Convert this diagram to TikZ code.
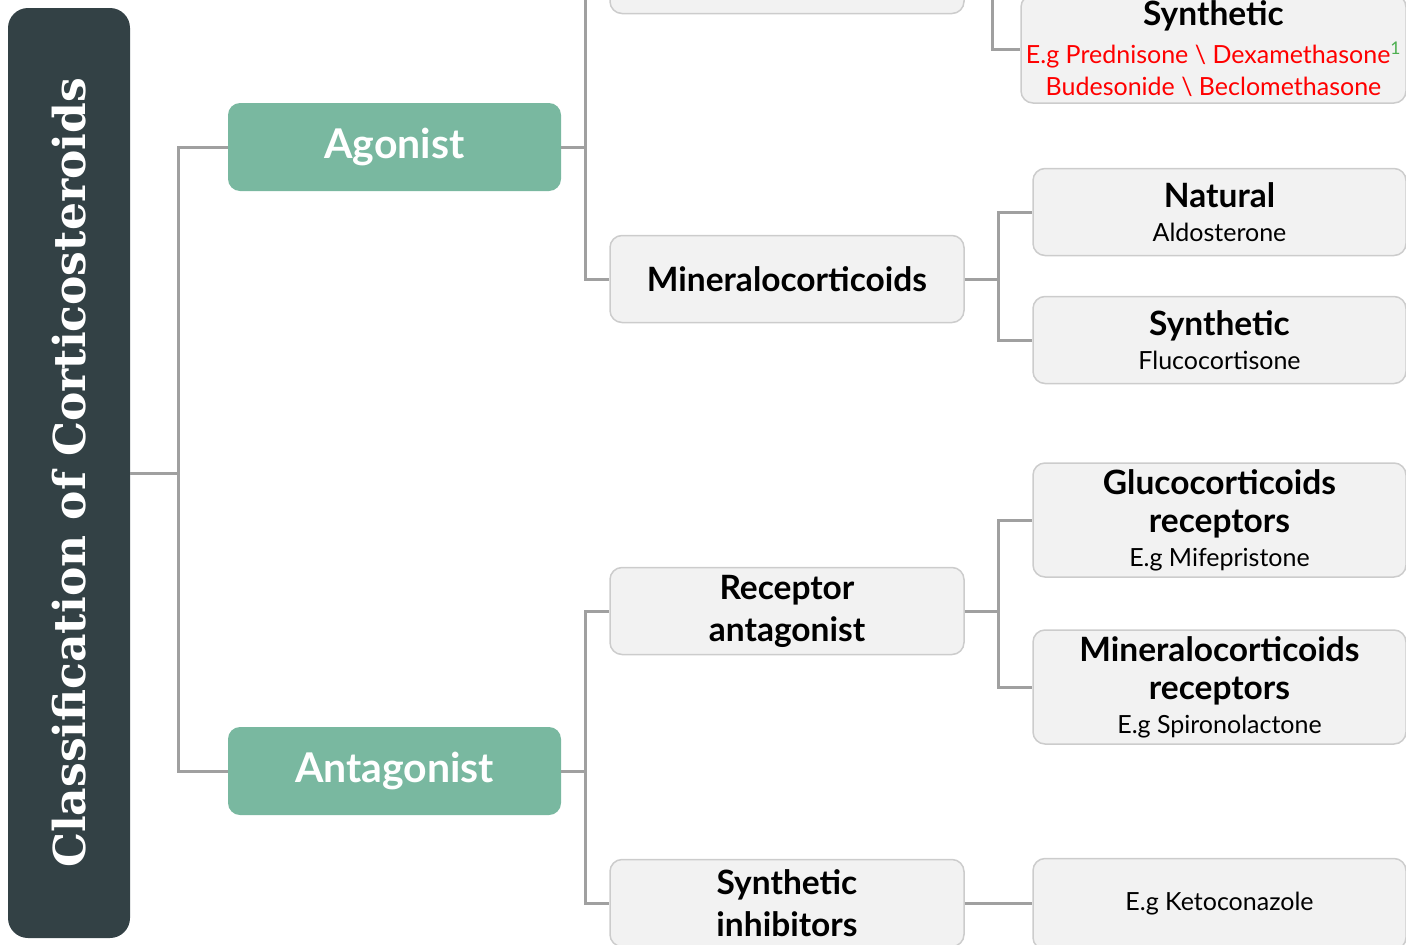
\documentclass[tikz,border=0pt]{standalone}
\usepackage{fontspec}
\setmainfont{Lato}
\newfontfamily\titlefont{DejaVu Serif}
\usetikzlibrary{positioning}
\definecolor{slate}{HTML}{334145}
\definecolor{sage}{HTML}{79B8A0}
\definecolor{boxfill}{HTML}{F2F2F2}
\definecolor{boxline}{HTML}{CCCCCC}
\definecolor{linkgray}{HTML}{A0A0A0}
\definecolor{egred}{HTML}{FF0000}
\definecolor{refgreen}{HTML}{4CAF50}
\newcommand{\hd}{\fontsize{33.5}{38}\selectfont\bfseries}
\newcommand{\eg}{\fontsize{25}{30}\selectfont\mdseries}

\begin{document}
\begin{tikzpicture}
        [x=1pt, y=-1pt,
          root/.style={fill=slate, rounded corners=20pt, minimum width=122pt, minimum height=930pt},
          major/.style={fill=sage, rounded corners=12pt, minimum width=333pt, minimum height=88pt,
            text=white, font=\fontsize{41}{48}\selectfont\bfseries},
          element/.style={draw=boxline, line width=1.5pt, fill=boxfill, rounded corners=12pt,
            minimum width=354pt, minimum height=87pt, align=center, font=\hd},
          leaf/.style={element, minimum width=373pt},
          link/.style={draw=linkgray, line width=3pt}]
        \useasboundingbox (0,0) rectangle (1406,945);
        \clip (0,0) rectangle (1406,945);
        \node[root] (root) at (69,473) {};
        \node[rotate=90, text=white, font=\titlefont\fontsize{44}{52}\selectfont\bfseries] (title) at (root.center)
          {Classification of Corticosteroids};
        \node[major] (agon) at (394.5,147) {Agonist};
        \node[major] (antag) at (394.5,771) {Antagonist};
        % level 2
        \node[element] (gluco) at (787,-30) {};
        \node[element] (mineral) at (787,279) {Mineralocorticoids};
        \node[element] (recant) at (787,611) {Receptor\\[4pt]antagonist};
        \node[element] (synin) at (787,903) {Synthetic\\[4pt]inhibitors};
        % level 3
        \node[leaf, minimum width=385pt, minimum height=108pt] (glsyn) at (1213.5,49)
          {Synthetic\\{\eg\color{egred}E.g Prednisone \textbackslash{} Dexamethasone\textsuperscript{\color{refgreen}1}}\\[-6pt]
           {\eg\color{egred}Budesonide \textbackslash{} Beclomethasone}};
        \node[leaf] (natural) at (1219.5,212) {Natural\\[-4pt]{\eg Aldosterone}};
        \node[leaf] (synth) at (1219.5,340) {Synthetic\\[-4pt]{\eg Flucocortisone}};
        \node[leaf, minimum height=114pt] (glurec) at (1219.5,520) {Glucocorticoids\\receptors\\[-4pt]{\eg E.g Mifepristone}};
        \node[leaf, minimum height=114pt] (minrec) at (1219.5,687) {Mineralocorticoids\\receptors\\[-4pt]{\eg E.g Spironolactone}};
        \node[leaf, font=\eg, minimum height=91pt] (keto) at (1219.5,904) {E.g Ketoconazole};
        % connectors
        \draw[link] (root.east) -- ++(48,0) |- (agon.west);
        \draw[link] (root.east) -- ++(48,0) |- (antag.west);
        \draw[link] (agon.east) -- ++(24,0) |- (gluco.west);
        \draw[link] (agon.east) -- ++(24,0) |- (mineral.west);
        \draw[link] (antag.east) -- ++(24,0) |- (recant.west);
        \draw[link] (antag.east) -- ++(24,0) |- (synin.west);
        \draw[link] (gluco.east) -- ++(28,0) |- (glsyn.west);
        \draw[link] (mineral.east) -- ++(34,0) |- (natural.west);
        \draw[link] (mineral.east) -- ++(34,0) |- (synth.west);
        \draw[link] (recant.east) -- ++(34,0) |- (glurec.west);
        \draw[link] (recant.east) -- ++(34,0) |- (minrec.west);
        \draw[link] (synin.east) -- (synin.east -| keto.west);
      \end{tikzpicture}
\end{document}
